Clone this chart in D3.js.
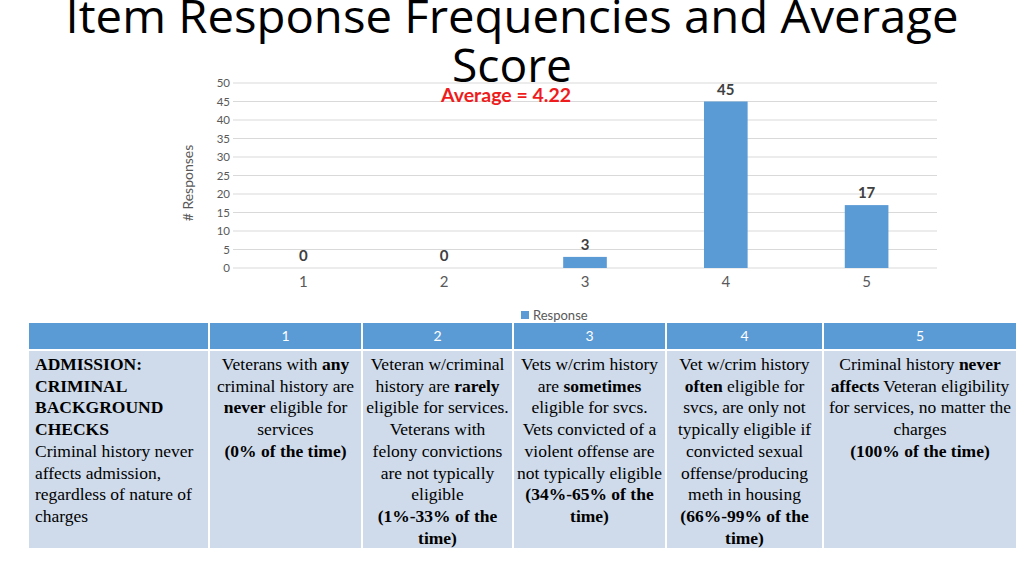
<!DOCTYPE html>
<html>
<head>
<meta charset="UTF-8">
<title>Item Response Frequencies and Average Score</title>
<script src="https://cdnjs.cloudflare.com/ajax/libs/d3/7.8.5/d3.min.js"></script>
<style>
  body { margin: 0; background: #fff; }
  svg { display: block; }
</style>
</head>
<body>
<div id="chart"></div>
<script>
// chart data
var categories = ["1", "2", "3", "4", "5"];
var responses = [0, 0, 3, 45, 17];
var yTicks = [0, 5, 10, 15, 20, 25, 30, 35, 40, 45, 50];
var averageLabel = "Average = 4.22";
var seriesName = "Response";

// table data (** marks bold runs)
var tableHeaders = ["", "1", "2", "3", "4", "5"];
var tableCells = [
  ["**ADMISSION:**", "**CRIMINAL**", "**BACKGROUND**", "**CHECKS**", "Criminal history never", "affects admission,", "regardless of nature of", "charges"],
  ["Veterans with **any**", "criminal history are", "**never** eligible for", "services", "**(0% of the time)**"],
  ["Veteran w/criminal", "history are **rarely**", "eligible for services.", "Veterans with", "felony convictions", "are not typically", "eligible", "**(1%-33% of the**", "**time)**"],
  ["Vets w/crim history", "are **sometimes**", "eligible for svcs.", "Vets convicted of a", "violent offense are", "not typically eligible", "**(34%-65% of the**", "**time)**"],
  ["Vet w/crim history", "**often** eligible for", "svcs, are only not", "typically eligible if", "convicted sexual", "offense/producing", "meth in housing", "**(66%-99% of the**", "**time)**"],
  ["Criminal history **never**", "**affects** Veteran eligibility", "for services, no matter the", "charges", "**(100% of the time)**"]
];
var colEdges = [29, 209, 362, 513, 666, 823, 1017];

var W = 1024, H = 575;
var svg = d3.select("#chart").append("svg").attr("width", W).attr("height", H);

// title
var title = svg.append("g").attr("font-family", "Open Sans, sans-serif").attr("fill", "#000").attr("font-size", 46);
title.append("text").attr("x", 512).attr("y", 33).attr("text-anchor", "middle")
  .attr("textLength", 893).attr("lengthAdjust", "spacingAndGlyphs")
  .text("Item Response Frequencies and Average");
title.append("text").attr("x", 512).attr("y", 82).attr("text-anchor", "middle")
  .attr("textLength", 120).attr("lengthAdjust", "spacingAndGlyphs")
  .text("Score");

// chart
var plotLeft = 233, plotRight = 937, plotTop = 83, plotBottom = 268;
var x = d3.scaleBand().domain(categories).range([plotLeft, plotRight]).paddingInner(0.69).paddingOuter(0.345);
var y = d3.scaleLinear().domain([0, 50]).range([plotBottom, plotTop]);

var g = svg.append("g").attr("font-family", "Lato, sans-serif");

g.selectAll("line.grid").data(yTicks).enter().append("line")
  .attr("class", "grid")
  .attr("x1", plotLeft).attr("x2", plotRight)
  .attr("y1", function(d) { return y(d); }).attr("y2", function(d) { return y(d); })
  .attr("stroke", "#d9d9d9").attr("stroke-width", 1);

var yAxis = d3.axisLeft(y).tickValues(yTicks).tickSize(0).tickPadding(3);
var ya = g.append("g").attr("transform", "translate(" + plotLeft + ",0)").call(yAxis);
ya.select(".domain").remove();
ya.selectAll("text").attr("font-family", "Lato, sans-serif").attr("font-size", 11.5).attr("fill", "#595959");

var xAxis = d3.axisBottom(x).tickSize(0).tickPadding(8);
var xa = g.append("g").attr("transform", "translate(0," + plotBottom + ")").call(xAxis);
xa.select(".domain").remove();
xa.selectAll("text").attr("font-family", "Lato, sans-serif").attr("font-size", 15).attr("fill", "#595959");

g.selectAll("rect.bar").data(responses).enter().append("rect")
  .attr("class", "bar")
  .attr("x", function(d, i) { return x(categories[i]); })
  .attr("width", x.bandwidth())
  .attr("y", function(d) { return y(d); })
  .attr("height", function(d) { return plotBottom - y(d); })
  .attr("fill", "#5b9bd5");

g.selectAll("text.val").data(responses).enter().append("text")
  .attr("class", "val")
  .attr("x", function(d, i) { return x(categories[i]) + x.bandwidth() / 2; })
  .attr("y", function(d) { return y(d) - 7; })
  .attr("text-anchor", "middle")
  .attr("font-size", 15).attr("font-weight", "bold").attr("fill", "#404040")
  .text(function(d) { return d; });

g.append("text")
  .attr("transform", "translate(193,183) rotate(-90)")
  .attr("text-anchor", "middle")
  .attr("font-size", 14).attr("fill", "#595959")
  .text("# Responses");

g.append("text").attr("x", 506).attr("y", 102).attr("text-anchor", "middle")
  .attr("font-size", 19.5).attr("font-weight", "bold").attr("fill", "#ee1c1c")
  .text(averageLabel);

// legend
g.append("rect").attr("x", 521).attr("y", 311).attr("width", 8).attr("height", 8).attr("fill", "#5b9bd5");
g.append("text").attr("x", 533).attr("y", 320).attr("font-size", 13).attr("fill", "#595959").text(seriesName);

// table
var headTop = 323, headBot = 349, bodyTop = 351, bodyBot = 548;
var tbl = svg.append("g");
tableHeaders.forEach(function(h, i) {
  var x0 = colEdges[i] + (i > 0 ? 1 : 0), x1 = colEdges[i + 1] - 1;
  tbl.append("rect").attr("x", x0).attr("y", headTop).attr("width", x1 - x0).attr("height", headBot - headTop).attr("fill", "#5b9bd5");
  tbl.append("rect").attr("x", x0).attr("y", bodyTop).attr("width", x1 - x0).attr("height", bodyBot - bodyTop).attr("fill", "#cfdbea");
  tbl.append("text").attr("x", (x0 + x1) / 2).attr("y", 341).attr("text-anchor", "middle")
    .attr("font-family", "Lato, sans-serif").attr("font-size", 14).attr("fill", "#fff").text(h);
});

tableCells.forEach(function(lines, i) {
  var x0 = colEdges[i], x1 = colEdges[i + 1];
  var isFirst = i === 0;
  lines.forEach(function(line, k) {
    var t = tbl.append("text")
      .attr("x", isFirst ? x0 + 6 : (x0 + x1) / 2)
      .attr("y", 370 + k * 21.7)
      .attr("text-anchor", isFirst ? "start" : "middle")
      .attr("font-family", "Liberation Serif, Times New Roman, serif")
      .attr("font-size", 17.5).attr("fill", "#000");
    line.split("**").forEach(function(part, j) {
      if (!part) return;
      t.append("tspan").attr("font-weight", j % 2 ? "bold" : "normal").text(part);
    });
  });
});
</script>
</body>
</html>
